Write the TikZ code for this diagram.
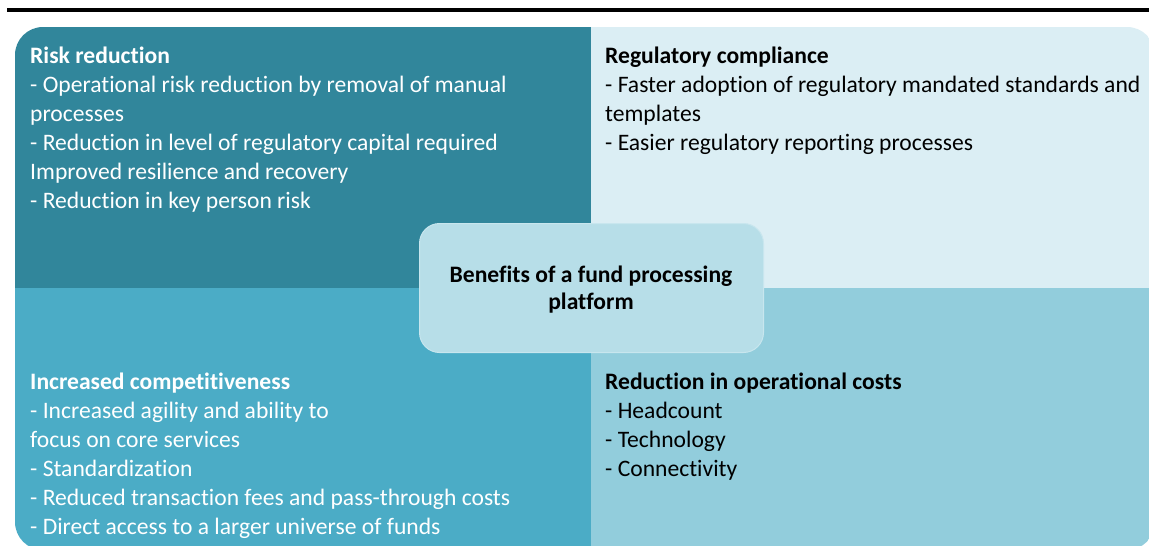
\documentclass[tikz,border=0pt]{standalone}
\usepackage{fontspec}
\setmainfont{Carlito}[Ligatures=NoCommon]
\definecolor{tl}{RGB}{49,134,155}
\definecolor{tr}{RGB}{219,238,244}
\definecolor{bl}{RGB}{75,172,198}
\definecolor{br}{RGB}{146,205,220}
\definecolor{cen}{RGB}{183,222,232}
\definecolor{cenborder}{RGB}{200,230,238}
\newcommand{\firstline}{\rule{0pt}{20pt}}
\begin{document}
\begin{tikzpicture}[x=1pt,y=-1pt,
  paneltext/.style={anchor=north west,inner sep=0pt,align=left,
    font=\fontsize{23.6}{29}\selectfont},
  whitetext/.style={paneltext,text=white},
  blacktext/.style={paneltext,text=black},
  centerbox/.style={draw=cenborder,line width=1pt,fill=cen,rounded corners=20pt}]
\useasboundingbox (0,0) rectangle (1149,546);
\fill[white] (0,0) rectangle (1149,546);
% rule at top
\fill[black] (7,8) rectangle (1149,11.5);
% quadrants
\begin{scope}
\clip[rounded corners=28pt] (15,27) rectangle (1155,550);
\fill[tl] (15,27) rectangle (591,287.5);
\fill[tr] (591,27) rectangle (1155,287.5);
\fill[bl] (15,287.5) rectangle (591,550);
\fill[br] (591,287.5) rectangle (1155,550);
\end{scope}
% center
\node[centerbox,minimum width=344pt,minimum height=129pt,anchor=north west] (c) at (419,223) {};
\node[anchor=north,inner sep=0pt,align=center,font=\fontsize{23.6}{27}\selectfont\bfseries] (ctext) at (591,262)
  {\firstline Benefits of a fund processing\\platform};
% panels
\node[whitetext] (risk) at (30,43) {\firstline\textbf{Risk reduction}\\
- Operational risk reduction by removal of manual\\
processes\\
- Reduction in level of regulatory capital required\\
Improved resilience and recovery\\
- Reduction in key person risk};
\node[blacktext] (reg) at (605,43) {\firstline\textbf{Regulatory compliance}\\
- Faster adoption of regulatory mandated standards and\\
templates\\
- Easier regulatory reporting processes};
\node[whitetext] (comp) at (30,369) {\firstline\textbf{Increased competitiveness}\\
- Increased agility and ability to\\
focus on core services\\
- Standardization\\
- Reduced transaction fees and pass-through costs\\
- Direct access to a larger universe of funds};
\node[blacktext] (cost) at (605,369) {\firstline\textbf{Reduction in operational costs}\\
- Headcount\\
- Technology\\
- Connectivity};
\end{tikzpicture}
\end{document}
